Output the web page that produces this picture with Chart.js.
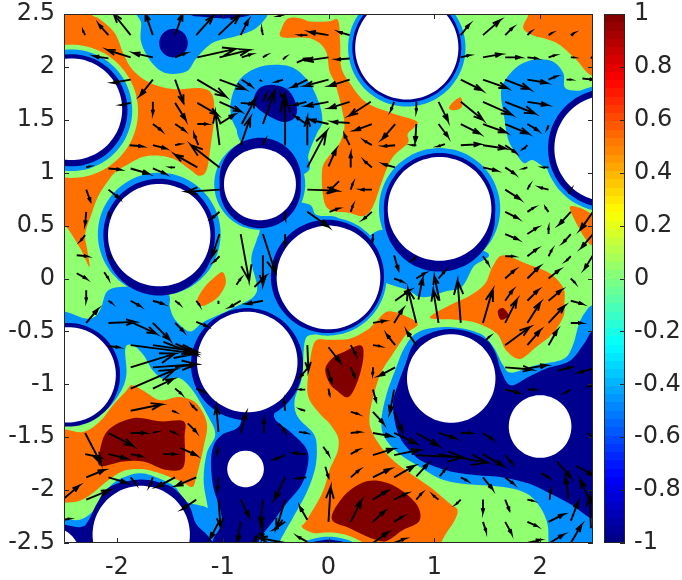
<!DOCTYPE html>
<html>
<head>
<meta charset="utf-8">
<title>Field</title>
<script src="https://cdn.jsdelivr.net/npm/chart.js@4/dist/chart.umd.min.js"></script>
<style>
  html, body { margin: 0; padding: 0; background: #fff; }
  #wrap { position: relative; width: 682px; height: 580px; }
  canvas { position: absolute; top: 0; }
  #field { left: 0; }
  #bar { left: 600px; }
</style>
</head>
<body>
<div id="wrap">
  <canvas id="field" width="600" height="580"></canvas>
  <canvas id="bar" width="82" height="580"></canvas>
</div>
<script>
const xTicks = [-2, -1, 0, 1, 2];
const yTicks = [-2.5, -2, -1.5, -1, -0.5, 0, 0.5, 1, 1.5, 2, 2.5];
const barTicks = [-1, -0.8, -0.6, -0.4, -0.2, 0, 0.2, 0.4, 0.6, 0.8, 1];
const barRange = [-1, 1];

// contour regions, flat x,y lists in axis units
const orangeRegions = [
  [-2.64,2.64,-2.25,2.64,-2.24,2.5,-2.16,2.45,-2.02,2.32,-1.94,2.13,-1.85,1.97,-1.69,1.85,-1.47,1.79,-1.22,1.8,-1.1,1.74,-1.08,1.53,-1.11,1.28,-1.15,1.03,-1.22,0.97,-1.31,1.03,-1.44,1.12,-1.59,1.16,-1.75,1.15,-1.91,1.07,-2.02,1,-2.1,0.9,-2.18,0.77,-2.24,0.61,-2.3,0.42,-2.28,0.27,-2.26,0.11,-2.35,0.29,-2.5,0.51,-2.64,0.55],
  [-1.24,-0.2,-1.17,-0.08,-1.08,0.01,-1,0.06,-0.97,-0.04,-1.03,-0.16,-1.12,-0.23,-1.2,-0.26],
  [-0.44,2.37,-0.38,2.46,-0.27,2.46,-0.175,2.43,0,2.43,0.09,2.44,0.11,2.23,0.12,2,0.2,1.85,0.36,1.66,0.61,1.56,0.84,1.48,0.75,1.37,0.75,1.28,0.61,1.15,0.52,0.96,0.42,0.68,0.33,0.59,0.2,0.62,0.01,0.65,-0.05,0.77,-0.06,1.03,0,1.15,0.08,1.23,0.15,1.42,0.12,1.63,0.06,1.85,0.01,1.96,-0.03,2.16,-0.175,2.27,-0.44,2.28],
  [1.14,1.61,1.18,1.67,1.25,1.71,1.26,1.62,1.19,1.59],
  [1.89,2.64,2.85,2.64,2.85,1.82,2.5,1.91,2.34,2.07,2.15,2.23,1.93,2.3,1.84,2.37,1.89,2.5],
  [2.28,0.67,2.37,0.67,2.5,0.6,2.72,0.46,2.72,0.24,2.5,0.31,2.44,0.36,2.36,0.49],
  [1.48,-0.05,1.55,0.11,1.65,0.22,1.87,0.14,2.09,0.05,2.22,-0.09,2.23,-0.24,2.22,-0.36,2.12,-0.52,1.96,-0.65,1.81,-0.76,1.68,-0.68,1.59,-0.52,1.4,-0.42,1.21,-0.39,0.96,-0.37,1.15,-0.25,1.34,-0.16],
  [-0.13,-0.6,0.01,-0.58,0.2,-0.57,0.36,-0.49,0.45,-0.41,0.58,-0.31,0.84,-0.42,0.74,-0.52,0.61,-0.71,0.48,-0.93,0.39,-1.28,0.42,-1.47,0.58,-1.69,0.77,-1.84,0.96,-1.97,1.15,-2.13,1.22,-2.19,1.19,-2.29,1.1,-2.43,1.05,-2.54,1.05,-2.63,0.3,-2.6,0.1,-2.42,-0.12,-2.41,-0.25,-2.35,-0.21,-2.29,-0.06,-2.03,0.01,-1.81,0.05,-1.72,0.09,-1.62,0.09,-1.5,0.01,-1.37,-0.08,-1.28,-0.19,-1.12,-0.19,-0.9],
  [-2.64,-1.47,-2.32,-1.45,-2.16,-1.35,-2.04,-1.2,-1.91,-1.06,-1.86,-1.01,-1.75,-1.06,-1.59,-1.15,-1.41,-1.12,-1.25,-1.18,-1.15,-1.37,-1.18,-1.59,-1.25,-1.88,-1.29,-1.97,-1.39,-1.92,-1.63,-1.83,-1.78,-1.8,-1.94,-1.82,-2.1,-1.92,-2.23,-2.03,-2.35,-2.1,-2.5,-2.12,-2.64,-2.12]
];
const darkRedRegions = [
  [-2.08,-1.43,-1.85,-1.32,-1.59,-1.35,-1.37,-1.35,-1.36,-1.5,-1.37,-1.78,-1.53,-1.81,-1.75,-1.73,-1.94,-1.73,-2.16,-1.77,-2.16,-1.62],
  [-0.03,-0.85,0.05,-0.74,0.11,-0.71,0.3,-0.63,0.33,-0.74,0.28,-0.96,0.19,-1.12,0.08,-1.06,0.01,-0.99],
  [0.03,-2.27,0.14,-2.06,0.3,-1.94,0.45,-1.91,0.64,-1.97,0.83,-2.13,0.86,-2.29,0.7,-2.38,0.55,-2.48,0.42,-2.46,0.2,-2.36],
  [1.6,-0.31,1.65,-0.28,1.7,-0.35,1.63,-0.39]
];
const blueRegions = [
  [-1.77,2.64,-1.77,2.41,-1.77,2.23,-1.67,2.04,-1.53,1.94,-1.34,1.96,-1.25,2.08,-1.09,2.23,-0.84,2.3,-0.68,2.37,-0.57,2.5,-0.54,2.64],
  [-0.92,1.69,-0.84,1.88,-0.68,1.99,-0.51,2.02,-0.33,1.99,-0.18,1.85,-0.08,1.63,-0.06,1.47,-0.11,1.37,-0.19,1.17,-0.21,1,-0.65,0.9,-0.84,1.31,-0.87,1.41,-0.92,1.53],
  [-2.64,-0.38,-2.27,-0.38,-2.16,-0.3,-2.08,-0.11,-1.85,-0.08,-1.53,-0.14,-1.5,-0.27,-1.45,-0.39,-1.31,-0.5,-1.18,-0.41,-0.9,-0.28,-0.68,-0.13,-0.73,0.17,-0.68,0.36,-0.65,0.46,-0.65,0.71,-0.21,0.71,-0.11,0.6,0.11,0.55,0.11,0.21,0.05,-0.42,-0.11,-0.52,-0.22,-0.58,-0.25,-0.93,-0.32,-1.15,-0.29,-1.31,-0.14,-1.47,-0.11,-1.62,-0.13,-1.81,-0.21,-2.03,-0.33,-2.25,-0.47,-2.51,-0.47,-2.63,-1.06,-2.63,-1.09,-2.5,-1.14,-2.17,-1.18,-1.91,-1.15,-1.65,-1.07,-1.47,-1.15,-1.28,-1.29,-1.05,-1.41,-0.94,-1.56,-0.95,-1.66,-0.87,-1.75,-0.72,-1.85,-0.63,-1.92,-0.66,-1.91,-0.9,-1.96,-1.06,-2.1,-1.24,-2.32,-1.35,-2.5,-1.4,-2.64,-1.4],
  [0.44,0.44,0.8,0.43,1.49,0.25,1.37,0.11,1.26,-0.08,1.11,-0.12,0.96,-0.17,0.85,-0.17,0.75,-0.11,0.48,-0.01,0.3,0.2],
  [1.63,1.75,1.68,1.89,1.81,2.02,1.96,2.07,2.12,2.05,2.22,1.94,2.25,1.79,2.5,1.78,2.69,1.78,2.69,1.06,2.15,1.03,2.06,1.04,1.93,1.12,1.85,1.09,1.78,1.17,1.7,1.31,1.66,1.53],
  [0.5,-1.34,0.55,-1.09,0.63,-0.87,0.72,-0.65,0.86,-0.5,1.16,-0.46,1.43,-0.52,1.56,-0.65,1.65,-0.82,1.73,-0.89,1.96,-0.82,2.22,-0.76,2.31,-0.63,2.37,-0.42,2.44,-0.3,2.5,-0.25,2.69,-0.2,2.69,-2.6,2.09,-2.6,2.08,-2.5,2.07,-2.32,2,-2.16,1.87,-2.03,1.65,-1.97,1.27,-1.94,1.05,-1.89,0.86,-1.78,0.66,-1.65,0.53,-1.5],
  [-2.64,-2.29,-2.35,-2.28,-2.19,-2.16,-2.07,-1.97,-1.94,-1.88,-1.77,-1.84,-1.6,-1.89,-1.45,-1.97,-1.34,-2.11,-1.14,-2.17,-1.03,-2.32,-1.06,-2.63,-2.64,-2.63]
];
const darkBlueRegions = [
  [-1.31,2.5,-1.15,2.47,-0.93,2.46,-0.73,2.5,-0.73,2.64,-1.31,2.64],
  [-0.71,1.69,-0.65,1.8,-0.52,1.83,-0.38,1.78,-0.3,1.63,-0.32,1.52,-0.43,1.48,-0.59,1.55,-0.69,1.63],
  [-1.09,-1.59,-1.01,-1.48,-0.84,-1.39,-0.79,-1.15,-0.51,-1.15,-0.51,-1.32,-0.36,-1.45,-0.22,-1.59,-0.19,-1.72,-0.25,-1.94,-0.4,-2.13,-0.52,-2.29,-0.65,-2.46,-0.71,-2.63,-1.09,-2.63,-1.09,-2.47,-1.01,-2.32,-1.03,-2.16,-1.09,-1.97,-1.11,-1.75],
  [0.61,-1.18,0.64,-1.05,0.72,-0.83,0.82,-0.6,1.05,-0.49,1.27,-0.49,1.49,-0.58,1.58,-0.71,1.63,-0.87,1.72,-1.01,1.89,-0.93,2.06,-0.85,2.28,-0.78,2.42,-0.61,2.5,-0.49,2.69,-0.42,2.69,-2.29,2.5,-2.27,2.41,-2.22,2.28,-2.13,2.09,-2.03,1.9,-1.94,1.65,-1.88,1.4,-1.86,1.18,-1.83,0.96,-1.76,0.83,-1.69,0.69,-1.53,0.63,-1.37],
  [-2.64,-2.33,-2.35,-2.35,-2.27,-2.29,-2.19,-2.13,-2.07,-1.97,-1.78,-1.9,-1.53,-1.95,-1.41,-2.03,-1.31,-2.16,-1.25,-2.32,-1.12,-2.46,-1.09,-2.63,-2.64,-2.63]
];

// rings and holes: centre x, centre y, radius in axis units
const greenHalos = [[-2.43,1.58,0.63],[0,-2.99,0.59]];
const blueRings = [[-2.43,1.59,0.575],[0.74,2.18,0.555],[2.635,1.23,0.6],[1.05,0.66,0.573],[-0.01,0.02,0.56],[-1.6,0.42,0.58],[-0.65,0.89,0.43],[0,-2.99,0.55],[-1.465,2.225,0.21]];
const darkRings = [[-2.43,1.59,0.53],[0.74,2.18,0.515],[2.635,1.23,0.56],[1.05,0.66,0.527],[1.05,0.59,0.525],[-0.01,0.02,0.535],[-1.6,0.415,0.528],[-1.6,0.36,0.52],[-0.645,0.945,0.385],[-0.645,0.86,0.385],[-2.46,-0.91,0.49],[-0.77,-0.81,0.53],[0,-2.99,0.52],[-1.465,2.225,0.135]];
const holes = [[-2.43,1.6,0.48],[0.74,2.18,0.488],[2.635,1.23,0.5],[1.05,0.658,0.49],[0,0.01,0.49],[-1.6,0.41,0.484],[-0.648,0.89,0.34],[-2.46,-0.91,0.45],[-0.768,-0.79,0.475],[-0.784,-1.8,0.173],[-1.77,-2.42,0.46],[-2.62,-2.62,0.27],[1.16,-0.945,0.418],[2,-1.399,0.296],[0,-2.99,0.49]];

// quiver: tail x, tail y, head x, head y
const arrowSegments = [
  [-1.87,2.3,-2.03,2.5],[-1.66,2.3,-1.73,2.5],[-1.45,2.3,-1.38,2.5],[-1.25,2.3,-1.09,2.48],[-1.04,2.3,-0.84,2.49],[-0.83,2.3,-0.76,2.44],[-0.62,2.3,-0.63,2.35],[-2.3,2.3,-2.32,2.34],[-2.08,2.3,-2.17,2.4],[-0.41,2.5,-0.47,2.48],[-0.2,2.3,-0.27,2.3],[0,2.3,-0.18,2.33],
  [0.2,2.3,0.1,2.33],[1.25,2.3,1.33,2.4],[1.46,2.3,1.62,2.44],[1.67,2.3,1.74,2.37],[1.88,2.3,1.91,2.33],[2.08,2.3,2.11,2.32],[2.29,2.3,2.32,2.32],
  [-2.08,2.08,-2.21,2.1],[-1.87,2.09,-2.09,2.16],[-1.66,2.09,-1.84,2.13],[-1.45,2.09,-1.35,2.13],[-1.24,2.09,-0.88,2.17],[-1.03,2.09,-0.75,2.16],[-0.82,2.09,-0.73,2.12],[-0.62,2.09,-0.59,2.11],[-0.43,2.07,-0.41,2.09],[-0.3,2.04,-0.21,2.08],[0,2.09,-0.21,2.06],[0.2,2.08,0.08,2.07],
  [1.25,2.09,1.33,2.11],[1.46,2.09,1.63,2.12],[1.67,2.09,1.81,2.09],[1.88,2.09,1.97,2.08],[2.08,2.09,2.14,2.11],[2.29,2.09,2.32,2.09],[2.48,2.08,2.5,2.1],
  [-1.87,1.88,-2.04,1.85],[-1.66,1.88,-1.78,1.73],[-1.45,1.88,-1.37,1.66],[-1.24,1.88,-0.97,1.72],[-1.03,1.88,-0.79,1.79],[-0.82,1.88,-0.73,1.82],[-0.65,1.88,-0.64,1.87],[-0.43,1.88,-0.49,1.86],[-0.2,1.88,-0.34,1.81],[0,1.88,-0.22,1.82],[0.2,1.88,0.01,1.82],
  [1.25,1.88,1.45,1.78],[1.46,1.88,1.69,1.8],[1.67,1.88,1.9,1.79],[1.88,1.88,2.06,1.85],[2.08,1.88,2.15,1.91],[2.25,1.88,2.29,1.88],[2.4,1.89,2.5,1.88],
  [-1.87,1.66,-1.96,1.64],[-1.66,1.67,-1.66,1.56],[-1.45,1.66,-1.35,1.5],[-1.24,1.66,-1.05,1.55],[-1.03,1.67,-0.83,1.58],[-0.83,1.66,-0.72,1.65],[-0.62,1.67,-0.59,1.74],[-0.41,1.67,-0.45,1.74],[-0.21,1.67,-0.32,1.64],[0,1.67,-0.21,1.63],[0.2,1.67,0.01,1.61],
  [0.4,1.67,0.2,1.54],[0.62,1.67,0.59,1.59],[0.83,1.67,0.83,1.58],[1.04,1.67,1.13,1.49],[1.25,1.67,1.46,1.5],[1.46,1.67,1.73,1.55],[1.67,1.67,1.95,1.56],[1.88,1.67,2.07,1.64],
  [-1.66,1.46,-1.58,1.4],[-1.45,1.46,-1.36,1.4],[-1.24,1.46,-1.15,1.46],[-1.03,1.46,-0.89,1.55],[-0.82,1.46,-0.69,1.7],[-0.62,1.46,-0.51,1.77],[-0.41,1.46,-0.42,1.72],[-0.21,1.46,-0.31,1.53],[0,1.46,-0.17,1.5],[0.2,1.47,0.04,1.48],
  [0.41,1.46,0.25,1.4],[0.63,1.46,0.51,1.32],[0.83,1.46,0.82,1.29],[1.04,1.46,1.13,1.34],[1.25,1.46,1.43,1.37],[1.46,1.46,1.68,1.38],[1.67,1.46,1.89,1.37],[1.88,1.46,1.98,1.4],[2.08,1.45,2.07,1.42],
  [-1.88,1.26,-1.76,1.25],[-1.66,1.26,-1.54,1.23],[-1.45,1.26,-1.41,1.27],[-1.23,1.26,-1.27,1.36],[-1.03,1.26,-1.07,1.57],[-0.83,1.26,-0.74,1.52],[-0.62,1.26,-0.6,1.31],[-0.41,1.26,-0.41,1.72],[-0.2,1.26,-0.2,1.52],
  [0.2,1.26,0.15,1.36],[0.41,1.26,0.34,1.3],[0.63,1.26,0.52,1.25],[0.83,1.26,0.79,1.26],[1.1,1.27,1.04,1.25],[1.25,1.26,1.43,1.27],[1.46,1.26,1.67,1.23],[1.67,1.26,1.77,1.19],[1.88,1.26,1.85,1.23],
  [0,1.06,0.07,1.22],[-0.2,1.05,-0.02,1.39],[-2.08,1.04,-1.97,1.03],[-1.87,1.04,-1.7,0.99],[-1.66,1.04,-1.54,0.99],[-1.45,1.05,-1.49,1.05],[-1.24,1.05,-1.45,1.17],[-1.03,1.05,-1.3,1.26],[-2.29,1.05,-2.26,1.06],
  [0.21,1.05,0.21,1.18],[0.41,1.05,0.34,1.11],[0.63,1.05,0.52,1.08],[1.46,1.05,1.59,1.02],[1.67,1.05,1.76,0.99],[1.88,1.05,1.85,1.04],[2.08,1.05,2.03,1.05],
  [-1.03,0.84,-1.34,0.82],[-0.2,0.84,0.08,0.83],[-2.29,0.84,-2.25,0.73],[-2.08,0.84,-1.98,0.76],[0.1,0.92,0.01,0.83],[0.21,0.84,0.23,0.9],[0.41,0.84,0.31,0.84],[1.67,0.84,1.81,0.75],[1.88,0.84,1.9,0.88],[2.08,0.84,2,0.86],[2.27,0.8,2.29,0.84],
  [-2.29,0.63,-2.3,0.51],[-2.08,0.63,-2.07,0.59],[-1.03,0.63,-1.1,0.57],[-0.41,0.63,-0.41,0.56],[-0.2,0.63,0,0.49],[0.01,0.63,0.09,0.66],[0.21,0.63,0.23,0.69],[0.41,0.63,0.33,0.56],[1.67,0.63,1.79,0.57],[1.88,0.63,1.94,0.67],[2.08,0.63,2.05,0.67],[2.29,0.63,2.18,0.51],[2.5,0.63,2.38,0.46],
  [-2.3,0.41,-2.34,0.36],[-1.03,0.42,-1.1,0.21],[-0.83,0.42,-0.75,-0.02],[-0.62,0.42,-0.5,0.05],[-0.41,0.42,-0.41,0.32],[0.42,0.42,0.42,0.36],[1.67,0.42,1.79,0.37],[1.88,0.42,1.97,0.48],[2.08,0.42,2.08,0.48],[2.29,0.42,2.22,0.34],[2.5,0.42,2.39,0.29],
  [-2.38,0.22,-2.28,0.21],[-2.07,0.22,-2.06,0.2],[-1.03,0.21,-1.08,0.16],[-0.62,0.22,-0.62,-0.06],[0.62,0.22,0.66,0.08],[0.83,0.21,0.8,0.18],[1.46,0.21,1.51,0.14],[1.67,0.21,1.75,0.21],[1.88,0.21,1.97,0.28],[2.08,0.21,2.11,0.27],[2.29,0.21,2.25,0.17],[2.5,0.22,2.42,0.09],
  [-2.38,0.05,-2.29,0],[-2.12,0.06,-2.08,0],[-0.87,-0.06,-0.83,0],[-0.7,-0.08,-0.6,0.02],[0.62,0,0.7,-0.03],[0.83,0,0.91,0.05],[1.04,0,1.1,0.07],[1.67,0,1.76,0.08],[1.88,0,1.99,0.11],[2.08,0,2.18,0.08],[2.29,0,2.33,-0.04],
  [-2.29,-0.11,-2.29,-0.21],[-2.08,-0.21,-2.05,-0.23],[-1.87,-0.21,-1.78,-0.26],[-1.66,-0.21,-1.56,-0.24],[-1.45,-0.21,-1.41,-0.24],[-1.25,-0.21,-1.22,-0.25],[-1.04,-0.21,-1.04,-0.24],[-0.83,-0.21,-0.93,-0.27],[-0.62,-0.21,-0.77,-0.24],
  [0.63,-0.21,0.77,-0.11],[0.85,-0.2,0.89,0],[1.05,-0.21,1,0.02],[1.67,-0.21,1.74,-0.11],[1.88,-0.21,1.98,-0.11],[2.08,-0.21,2.2,-0.11],[2.29,-0.21,2.4,-0.24],
  [-2.29,-0.42,-2.18,-0.29],[-2.08,-0.42,-1.83,-0.41],[-1.87,-0.41,-1.63,-0.52],[-1.66,-0.42,-1.5,-0.58],[-1.45,-0.42,-1.37,-0.5],[-1.25,-0.41,-1.15,-0.45],[0.42,-0.42,0.53,-0.4],[0.62,-0.42,0.7,-0.29],[0.83,-0.42,0.75,-0.1],[1.04,-0.42,0.99,-0.11],[1.25,-0.42,1.22,-0.02],[1.46,-0.42,1.55,-0.11],[1.67,-0.42,1.78,-0.2],[1.88,-0.42,2,-0.23],[2.08,-0.42,2.23,-0.26],[2.29,-0.42,2.39,-0.42],
  [-2.08,-0.64,-1.98,-0.65],[-1.87,-0.63,-1.25,-0.71],[-1.66,-0.63,-1.25,-0.69],[-1.56,-0.6,-1.25,-0.72],[-0.2,-0.63,-0.19,-0.87],[0,-0.65,0.11,-0.79],[0.21,-0.63,0.26,-0.72],[0.42,-0.63,0.49,-0.64],[0.63,-0.63,0.55,-0.53],[0.83,-0.63,0.74,-0.5],[1.49,-0.58,1.52,-0.55],[1.67,-0.63,1.9,-0.46],[1.88,-0.63,2,-0.49],[2.08,-0.63,2.16,-0.49],
  [-1.87,-0.84,-1.45,-0.71],[-1.66,-0.84,-1.25,-0.81],[-1.45,-0.84,-1.25,-0.81],[-0.19,-0.84,-0.27,-0.93],[-0.01,-0.85,0.03,-0.98],[0.21,-0.84,0.25,-0.93],[0.42,-0.84,0.42,-0.9],[0.63,-0.84,0.48,-0.92],[1.67,-0.84,1.92,-0.86],[1.88,-0.85,2.06,-0.82],[2.17,-0.87,2.29,-0.84],[2.5,-0.85,2.37,-0.89],
  [-1.87,-1.04,-1.45,-0.86],[-1.66,-1.04,-1.47,-0.95],[-1.45,-1.04,-1.39,-1.09],[-1.25,-1.04,-1.18,-1.07],[-0.22,-1.05,-0.27,-1.05],[0,-1.04,0.01,-1.1],[0.42,-1.05,0.45,-1.16],[0.62,-1.05,0.58,-1.27],[1.67,-1.05,1.8,-1.08],[1.88,-1.05,1.95,-1.05],[2.29,-1.05,2.24,-1.08],[2.5,-1.01,2.47,-1.02],
  [-1.87,-1.25,-1.58,-1.19],[-1.48,-1.25,-1.45,-1.26],[-1.24,-1.25,-1.29,-1.2],[-0.41,-1.25,-0.42,-1.15],[-0.22,-1.25,-0.26,-1.24],[0.21,-1.26,0.28,-1.28],[0.42,-1.26,0.52,-1.37],[0.62,-1.26,0.7,-1.45],
  [-2.3,-1.46,-2.15,-1.75],[-2.08,-1.46,-1.85,-1.58],[-1.87,-1.46,-1.73,-1.46],[-1.66,-1.46,-1.63,-1.45],[-1.5,-1.44,-1.45,-1.46],[-1.33,-1.37,-1.25,-1.45],[-1.04,-1.45,-1.06,-1.21],[-0.83,-1.46,-0.78,-1.27],[-0.61,-1.46,-0.61,-1.33],[-0.47,-1.37,-0.41,-1.45],[-0.28,-1.45,-0.21,-1.46],
  [0.21,-1.46,0.29,-1.45],[0.42,-1.46,0.59,-1.49],[0.62,-1.46,0.83,-1.56],[0.83,-1.46,1.04,-1.58],[1.04,-1.46,1.2,-1.51],[1.25,-1.46,1.35,-1.46],[1.46,-1.46,1.55,-1.52],[2.45,-1.46,2.5,-1.5],
  [-2.3,-1.66,-2.16,-1.69],[-2.08,-1.66,-1.91,-1.7],[-1.87,-1.66,-1.77,-1.68],[-1.56,-1.66,-1.45,-1.66],[-1.4,-1.6,-1.25,-1.67],[-1.04,-1.59,-1.05,-1.65],[-0.41,-1.67,-0.51,-1.71],[-0.21,-1.66,-0.33,-1.65],[-0.05,-1.59,0,-1.66],
  [0.21,-1.66,0.28,-1.62],[0.42,-1.67,0.61,-1.61],[0.62,-1.67,0.86,-1.62],[0.83,-1.67,1.27,-1.69],[1.04,-1.66,1.5,-1.74],[1.46,-1.66,1.65,-1.77],[1.67,-1.67,1.74,-1.75],
  [-2.29,-1.88,-2.12,-1.81],[-2.08,-1.88,-1.91,-1.93],[-1.87,-1.88,-1.82,-1.94],[-1.66,-1.88,-1.69,-1.96],[-1.45,-1.88,-1.62,-1.97],[-1.25,-1.88,-1.44,-1.96],[-1.04,-1.88,-1.05,-2],[-0.41,-1.88,-0.51,-2.09],[-0.21,-1.88,-0.29,-1.89],[-0.03,-1.78,0,-1.88],
  [0.21,-1.88,0.29,-1.81],[0.42,-1.88,0.58,-1.8],[0.62,-1.88,0.81,-1.77],[0.83,-1.87,0.94,-1.75],[1.05,-1.87,1.1,-1.81],[1.25,-1.88,1.31,-1.91],[1.46,-1.88,1.55,-1.99],[1.67,-1.88,1.75,-1.94],[2.01,-1.84,2.08,-1.88],[2.16,-1.73,2.29,-1.88],[2.34,-1.77,2.5,-1.86],
  [-2.5,-2.08,-2.36,-1.96],[-2.29,-2.09,-2.07,-2],[-1.25,-2.09,-1.38,-2.18],[-1.04,-2.09,-1.02,-2.35],[-0.83,-2.09,-0.75,-2.25],[-0.62,-2.09,-0.64,-2.33],[-0.41,-2.09,-0.49,-2.36],[0,-2.3,0.02,-1.97],
  [0.42,-2.09,0.55,-2.01],[0.62,-2.09,0.74,-2.03],[0.83,-2.09,0.88,-2.03],[1.04,-2.09,0.99,-2.05],[1.25,-2.09,1.21,-2.13],[1.46,-2.09,1.46,-2.21],[1.67,-2.09,1.71,-2.19],[1.88,-2.09,1.93,-2.1],[2.09,-2.09,2.1,-2],[2.27,-2.08,2.24,-1.88],[2.48,-2.13,2.38,-1.9],
  [-2.5,-2.28,-2.45,-2.27],[-1.03,-2.29,-1.12,-2.46],[-0.83,-2.3,-0.86,-2.49],[-0.62,-2.3,-0.63,-2.46],[-0.41,-2.3,-0.51,-2.37],[-0.2,-2.28,-0.27,-2.16],[0.21,-2.3,0.31,-2.1],[0.42,-2.3,0.53,-2.2],[0.62,-2.3,0.7,-2.25],[1.46,-2.3,1.49,-2.39],[1.67,-2.3,1.73,-2.41],[1.88,-2.3,1.97,-2.34],[2.08,-2.3,2.22,-2.23],[2.29,-2.29,2.36,-2.11],[2.48,-2.36,2.47,-2.05],
  [-0.41,-2.5,-0.66,-2.45],[-0.2,-2.49,-0.29,-2.44],[-0.71,-2.49,-0.68,-2.44],[0.42,-2.5,0.56,-2.4],[0.62,-2.5,0.72,-2.46],[1.88,-2.5,2,-2.47],[2.09,-2.5,2.22,-2.42],[2.29,-2.5,2.39,-2.33]
];

const ink = "#262626";
Chart.defaults.font.family = "'DejaVu Sans', sans-serif";
Chart.defaults.font.size = 24;
Chart.defaults.color = ink;
Chart.defaults.animation = false;

const BREAK = { x: null, y: null };

function regionPoints(regions) {
  const pts = [];
  regions.forEach(function (r) {
    for (let i = 0; i < r.length; i += 2) pts.push({ x: r[i], y: r[i + 1] });
    pts.push(BREAK);
  });
  return pts;
}

function circlePoints(list) {
  const regions = list.map(function (c) {
    const r = [];
    for (let a = 0; a < 60; a++) {
      const t = (a / 60) * Math.PI * 2;
      r.push(c[0] + c[2] * Math.cos(t), c[1] + c[2] * Math.sin(t));
    }
    return r;
  });
  return regionPoints(regions);
}

function arrowPoints() {
  const pts = [];
  arrowSegments.forEach(function (a) {
    const dx = a[2] - a[0], dy = a[3] - a[1];
    const bx = a[2] - 0.33 * dx, by = a[3] - 0.33 * dy;
    const sx = -0.11 * dy, sy = 0.11 * dx;
    pts.push({ x: a[0], y: a[1] }, { x: a[2], y: a[3] }, { x: bx + sx, y: by + sy }, { x: a[2], y: a[3] }, { x: bx - sx, y: by - sy }, BREAK);
  });
  return pts;
}

function layer(points, color) {
  return { data: points, fillLayer: color, showLine: false, pointRadius: 0 };
}

// closed smooth path through the points the library placed
function traceClosed(ctx, p) {
  const n = p.length;
  ctx.moveTo(p[0].x, p[0].y);
  for (let i = 0; i < n; i++) {
    const p0 = p[(i - 1 + n) % n], p1 = p[i], p2 = p[(i + 1) % n], p3 = p[(i + 2) % n];
    ctx.bezierCurveTo(p1.x + (p2.x - p0.x) / 6, p1.y + (p2.y - p0.y) / 6, p2.x - (p3.x - p1.x) / 6, p2.y - (p3.y - p1.y) / 6, p2.x, p2.y);
  }
  ctx.closePath();
}

const contourFill = {
  id: "contourFill",
  beforeDatasetsDraw(chart) {
    const ctx = chart.ctx, area = chart.chartArea;
    ctx.save();
    ctx.beginPath();
    ctx.rect(area.left, area.top, area.width, area.height);
    ctx.clip();
    ctx.fillStyle = "#90FF70";
    ctx.fillRect(area.left, area.top, area.width, area.height);
    chart.data.datasets.forEach(function (ds, i) {
      if (!ds.fillLayer) return;
      ctx.fillStyle = ds.fillLayer;
      let run = [];
      chart.getDatasetMeta(i).data.forEach(function (el) {
        if (el.skip) {
          if (run.length > 2) {
            ctx.beginPath();
            traceClosed(ctx, run);
            ctx.fill();
          }
          run = [];
        } else {
          run.push(el);
        }
      });
    });
    ctx.restore();
  },
};

function frameTicks(sides) {
  return {
    id: "frameTicks",
    afterDatasetsDraw(chart) {
      const ctx = chart.ctx, a = chart.chartArea, x = chart.scales.x, y = chart.scales.y;
      ctx.save();
      ctx.strokeStyle = ink;
      ctx.lineWidth = 1;
      ctx.beginPath();
      ctx.rect(a.left + 0.5, a.top + 0.5, a.width - 1, a.height - 1);
      if (sides.x) {
        x.ticks.forEach(function (t) {
          const px = Math.round(x.getPixelForValue(t.value)) + 0.5;
          ctx.moveTo(px, a.bottom);
          ctx.lineTo(px, a.bottom - 5);
          ctx.moveTo(px, a.top);
          ctx.lineTo(px, a.top + 5);
        });
        y.ticks.forEach(function (t) {
          const py = Math.round(y.getPixelForValue(t.value)) + 0.5;
          ctx.moveTo(a.left, py);
          ctx.lineTo(a.left + 5, py);
          ctx.moveTo(a.right, py);
          ctx.lineTo(a.right - 5, py);
        });
      } else {
        y.ticks.forEach(function (t) {
          const py = Math.round(y.getPixelForValue(t.value)) + 0.5;
          ctx.moveTo(a.right, py);
          ctx.lineTo(a.right - 5, py);
        });
      }
      ctx.stroke();
      ctx.restore();
    },
  };
}

function pinAxis(size) {
  return function (s) {
    if (s.isHorizontal()) s.height = size; else s.width = size;
    s.paddingTop = s.paddingBottom = s.paddingLeft = s.paddingRight = 0;
  };
}

function useTicks(values) {
  return function (s) {
    s.ticks = values.map(function (v) { return { value: v }; });
  };
}

const plainGrid = { display: true, drawOnChartArea: false, drawTicks: false };

new Chart(document.getElementById("field"), {
  type: "scatter",
  data: {
    datasets: [
      { data: arrowPoints(), showLine: true, spanGaps: false, borderColor: "#000", borderWidth: 1.9, pointRadius: 0, tension: 0 },
      layer(circlePoints(holes), "#fff"),
      layer(circlePoints(darkRings), "#00008F"),
      layer(regionPoints(darkBlueRegions), "#00008F"),
      layer(circlePoints(blueRings), "#0090FF"),
      layer(regionPoints(blueRegions), "#0090FF"),
      layer(circlePoints(greenHalos), "#90FF70"),
      layer(regionPoints(darkRedRegions), "#800000"),
      layer(regionPoints(orangeRegions), "#FF7000"),
    ].reverse(),
  },
  options: {
    responsive: false,
    layout: { padding: { left: 0, top: 14, right: 7, bottom: 0 } },
    plugins: { legend: { display: false }, tooltip: { enabled: false } },
    events: [],
    scales: {
      x: {
        type: "linear", min: -2.5, max: 2.5,
        grid: plainGrid, border: { display: false },
        ticks: { padding: 10, maxRotation: 0, autoSkip: false, callback: function (v) { return String(v); } },
        afterBuildTicks: useTicks(xTicks),
        afterFit: pinAxis(37),
      },
      y: {
        type: "linear", min: -2.5, max: 2.5,
        grid: plainGrid, border: { display: false },
        ticks: { padding: 9, autoSkip: false, callback: function (v) { return String(v); } },
        afterBuildTicks: useTicks(yTicks),
        afterFit: pinAxis(64),
      },
    },
  },
  plugins: [contourFill, frameTicks({ x: true })],
});

// jet colormap in 64 steps, as hard stops along the bar
function jetColor(t) {
  const ramp = function (v) { return Math.round(255 * Math.max(0, Math.min(1, v))); };
  return "rgb(" + ramp(1.5 - Math.abs(4 * t - 3)) + "," + ramp(1.5 - Math.abs(4 * t - 2)) + "," + ramp(1.5 - Math.abs(4 * t - 1)) + ")";
}

function barGradient(context) {
  const area = context.chart.chartArea;
  if (!area) return "#000";
  const g = context.chart.ctx.createLinearGradient(0, area.bottom, 0, area.top);
  for (let i = 0; i < 64; i++) {
    const c = jetColor((i + 0.5) / 64);
    g.addColorStop(i / 64, c);
    g.addColorStop((i + 1) / 64, c);
  }
  return g;
}

new Chart(document.getElementById("bar"), {
  type: "bar",
  data: {
    labels: ["level"],
    datasets: [{ data: [barRange], backgroundColor: barGradient, barPercentage: 1, categoryPercentage: 1, borderWidth: 0 }],
  },
  options: {
    responsive: false,
    layout: { padding: { left: 4, top: 14, right: 0, bottom: 37 } },
    plugins: { legend: { display: false }, tooltip: { enabled: false } },
    events: [],
    scales: {
      x: { display: false },
      y: {
        position: "right", min: -1, max: 1,
        grid: plainGrid, border: { display: false },
        ticks: { padding: 9, autoSkip: false, callback: function (v) { return String(v); } },
        afterBuildTicks: useTicks(barTicks),
        afterFit: pinAxis(57),
      },
    },
  },
  plugins: [frameTicks({ x: false })],
});
</script>
</body>
</html>
